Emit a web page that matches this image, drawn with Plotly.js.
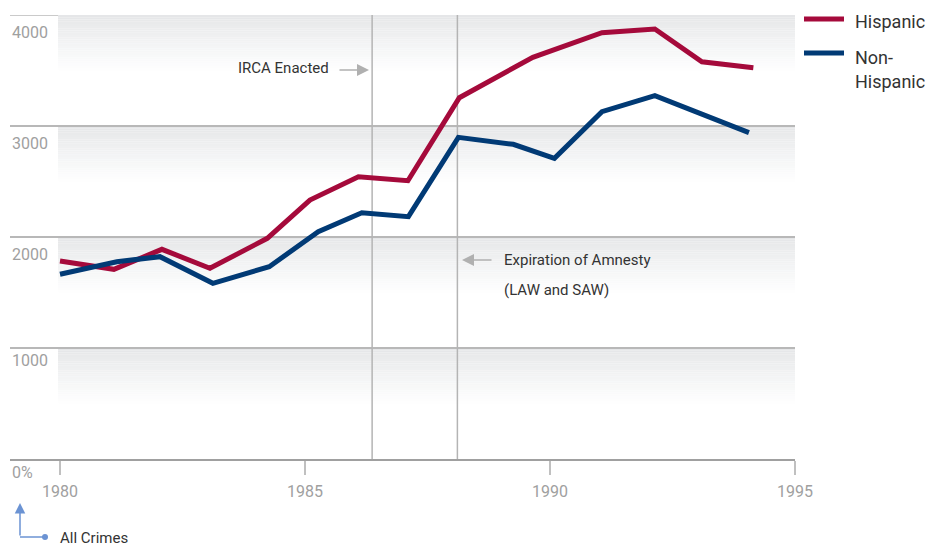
<!DOCTYPE html>
<html>
<head>
<meta charset="utf-8">
<script src="https://cdn.plot.ly/plotly-3.0.1.min.js"></script>
<style>html,body{margin:0;padding:0;background:#fff;}#chart{width:925px;height:547px;}</style>
</head>
<body>
<div id="chart"></div>
<script>
// ---- data ----
const hispanicYears = [1980, 1981.1, 1982.08, 1983.06, 1984.23, 1985.1, 1986.09, 1987.1, 1988.15, 1989.65, 1991.06, 1992.14, 1993.1, 1994.15];
const hispanicValues = [1784, 1709, 1889, 1718, 1988, 2333, 2543, 2507, 3255, 3619, 3841, 3874, 3579, 3525];
const nonHispanicYears = [1980, 1981.16, 1982.04, 1983.12, 1984.27, 1985.27, 1986.16, 1987.11, 1988.13, 1989.25, 1990.09, 1991.06, 1992.14, 1993.12, 1994.06];
const nonHispanicValues = [1664, 1777, 1823, 1583, 1732, 2048, 2219, 2183, 2898, 2835, 2709, 3129, 3273, 3108, 2940];
const xTickValues = [1980, 1985, 1990, 1995];
const xTickLabels = ['1980', '1985', '1990', '1995'];
const yGridValues = [1000, 2000, 3000, 4000];
const yLabels = ['0%', '1000', '2000', '3000', '4000'];
const yLabelValues = [0, 1000, 2000, 3000, 4000];
const eventYears = {irca: 1986.37, amnesty: 1988.11};
const seriesNames = ['Hispanic', 'Non-Hispanic'];

// ---- geometry helpers (figure pixels -> paper) ----
const W = 925, H = 547, ML = 10, MR = 130, MT = 15, MB = 88;
const PW = W - ML - MR, PH = H - MT - MB;
const px = x => (x - ML) / PW;
const py = y => (H - MB - y) / PH;

const RED = '#a50a3b', BLUE = '#013a75';
const FONT = 'Roboto, "Liberation Sans", sans-serif';

const traces = [
  {x: hispanicYears, y: hispanicValues, name: seriesNames[0], type: 'scatter', mode: 'lines',
   line: {color: RED, width: 5}, hoverinfo: 'skip'},
  {x: nonHispanicYears, y: nonHispanicValues, name: seriesNames[1], type: 'scatter', mode: 'lines',
   line: {color: BLUE, width: 5}, hoverinfo: 'skip'}
];

const shapes = [];
// gradient bands below each gridline
const strips = 25, bandUnits = 500;
yGridValues.forEach(g => {
  for (let i = 0; i < strips; i++) {
    const t = i / strips;
    const c0 = [229, 230, 232];
    const c = c0.map(v => Math.round(v + (255 - v) * Math.pow(t, 0.9)));
    shapes.push({type: 'rect', layer: 'below', xref: 'x', yref: 'y',
      x0: 1979.96, x1: 1995, y0: g - bandUnits * (i + 1) / strips, y1: g - bandUnits * i / strips,
      fillcolor: `rgb(${c[0]},${c[1]},${c[2]})`, line: {width: 0}});
  }
});
// top gridline (at the edge of the plot area)
shapes.push({type: 'line', layer: 'between', xref: 'paper', yref: 'y', x0: 0, x1: 1, y0: 4000, y1: 4000,
  line: {color: '#b8b8b8', width: 1.5}});
// event lines
[eventYears.irca, eventYears.amnesty].forEach(x => {
  shapes.push({type: 'line', layer: 'between', xref: 'x', yref: 'y', x0: x, x1: x, y0: 0, y1: 4000,
    line: {color: '#b4b4b4', width: 1.5}});
});
// legend lines
shapes.push({type: 'line', xref: 'paper', yref: 'paper', x0: px(804), x1: px(844), y0: py(19), y1: py(19), line: {color: RED, width: 5}});
shapes.push({type: 'line', xref: 'paper', yref: 'paper', x0: px(804), x1: px(844), y0: py(53), y1: py(53), line: {color: BLUE, width: 5}});
// "All Crimes" elbow
const ELB = '#6b93d3';
shapes.push({type: 'line', xref: 'paper', yref: 'paper', x0: px(20), x1: px(45), y0: py(537), y1: py(537), line: {color: ELB, width: 1.5}});
shapes.push({type: 'circle', xref: 'paper', yref: 'paper', x0: px(42), x1: px(48), y0: py(534), y1: py(540), fillcolor: ELB, line: {width: 0}});

const annotations = [];
const yShifts = [-13, -12, -17, -17, -17];
yLabels.forEach((t, i) => {
  annotations.push({text: t, xref: 'paper', yref: 'y', x: 0, y: yLabelValues[i], xanchor: 'left', yanchor: 'middle',
    yshift: yShifts[i], showarrow: false, font: {family: FONT, size: 16, color: '#a0a0a0'}});
});
const textFont = {family: FONT, size: 15, color: '#333333'};
annotations.push({text: 'IRCA Enacted', xref: 'paper', yref: 'paper', x: px(331), y: py(68), xanchor: 'right', yanchor: 'middle', showarrow: false, font: textFont});
annotations.push({text: '', xref: 'paper', yref: 'paper', x: px(369), y: py(70), ax: -31, ay: 0, showarrow: true,
  arrowhead: 2, arrowsize: 1.6, arrowwidth: 1.5, arrowcolor: '#b0b0b0'});
annotations.push({text: 'Expiration of Amnesty', xref: 'paper', yref: 'paper', x: px(502), y: py(260), xanchor: 'left', yanchor: 'middle', showarrow: false, font: textFont});
annotations.push({text: '(LAW and SAW)', xref: 'paper', yref: 'paper', x: px(502), y: py(290), xanchor: 'left', yanchor: 'middle', showarrow: false, font: textFont});
annotations.push({text: '', xref: 'paper', yref: 'paper', x: px(462), y: py(260), ax: 31, ay: 0, showarrow: true,
  arrowhead: 2, arrowsize: 1.6, arrowwidth: 1.5, arrowcolor: '#b0b0b0'});
// legend text
const legFont = {family: FONT, size: 18, color: '#333333'};
annotations.push({text: seriesNames[0], xref: 'paper', yref: 'paper', x: px(853), y: py(22), xanchor: 'left', yanchor: 'middle', showarrow: false, font: legFont});
annotations.push({text: 'Non-', xref: 'paper', yref: 'paper', x: px(853), y: py(57), xanchor: 'left', yanchor: 'middle', showarrow: false, font: legFont});
annotations.push({text: 'Hispanic', xref: 'paper', yref: 'paper', x: px(853), y: py(81), xanchor: 'left', yanchor: 'middle', showarrow: false, font: legFont});
// All Crimes
annotations.push({text: 'All Crimes', xref: 'paper', yref: 'paper', x: px(58), y: py(538), xanchor: 'left', yanchor: 'middle', showarrow: false, font: {family: FONT, size: 15, color: '#333333'}});
annotations.push({text: '', xref: 'paper', yref: 'paper', x: px(20), y: py(503), ax: 0, ay: 34, showarrow: true,
  arrowhead: 2, arrowsize: 1.4, arrowwidth: 1.5, arrowcolor: ELB});

const layout = {
  width: W, height: H,
  margin: {l: ML, r: MR, t: MT, b: MB, pad: 0},
  paper_bgcolor: '#ffffff', plot_bgcolor: '#ffffff',
  showlegend: false,
  xaxis: {range: [1980 - 50 / 49, 1995], tickmode: 'array', tickvals: xTickValues, ticktext: xTickLabels,
    ticks: 'outside', ticklen: 14, tickwidth: 1.5, tickcolor: '#c0c0c0', ticklabelstandoff: 3,
    showgrid: false, zeroline: false, showline: true, linecolor: '#a0a0a0', linewidth: 1.5,
    tickfont: {family: FONT, size: 16, color: '#a0a0a0'}, fixedrange: true},
  yaxis: {range: [0, 4000], tickmode: 'array', tickvals: yGridValues, showticklabels: false,
    showgrid: true, gridcolor: '#b8b8b8', gridwidth: 1.5, zeroline: false, showline: false, ticks: '', fixedrange: true},
  shapes: shapes,
  annotations: annotations
};

Plotly.newPlot('chart', traces, layout, {staticPlot: true, displayModeBar: false});
</script>
</body>
</html>
